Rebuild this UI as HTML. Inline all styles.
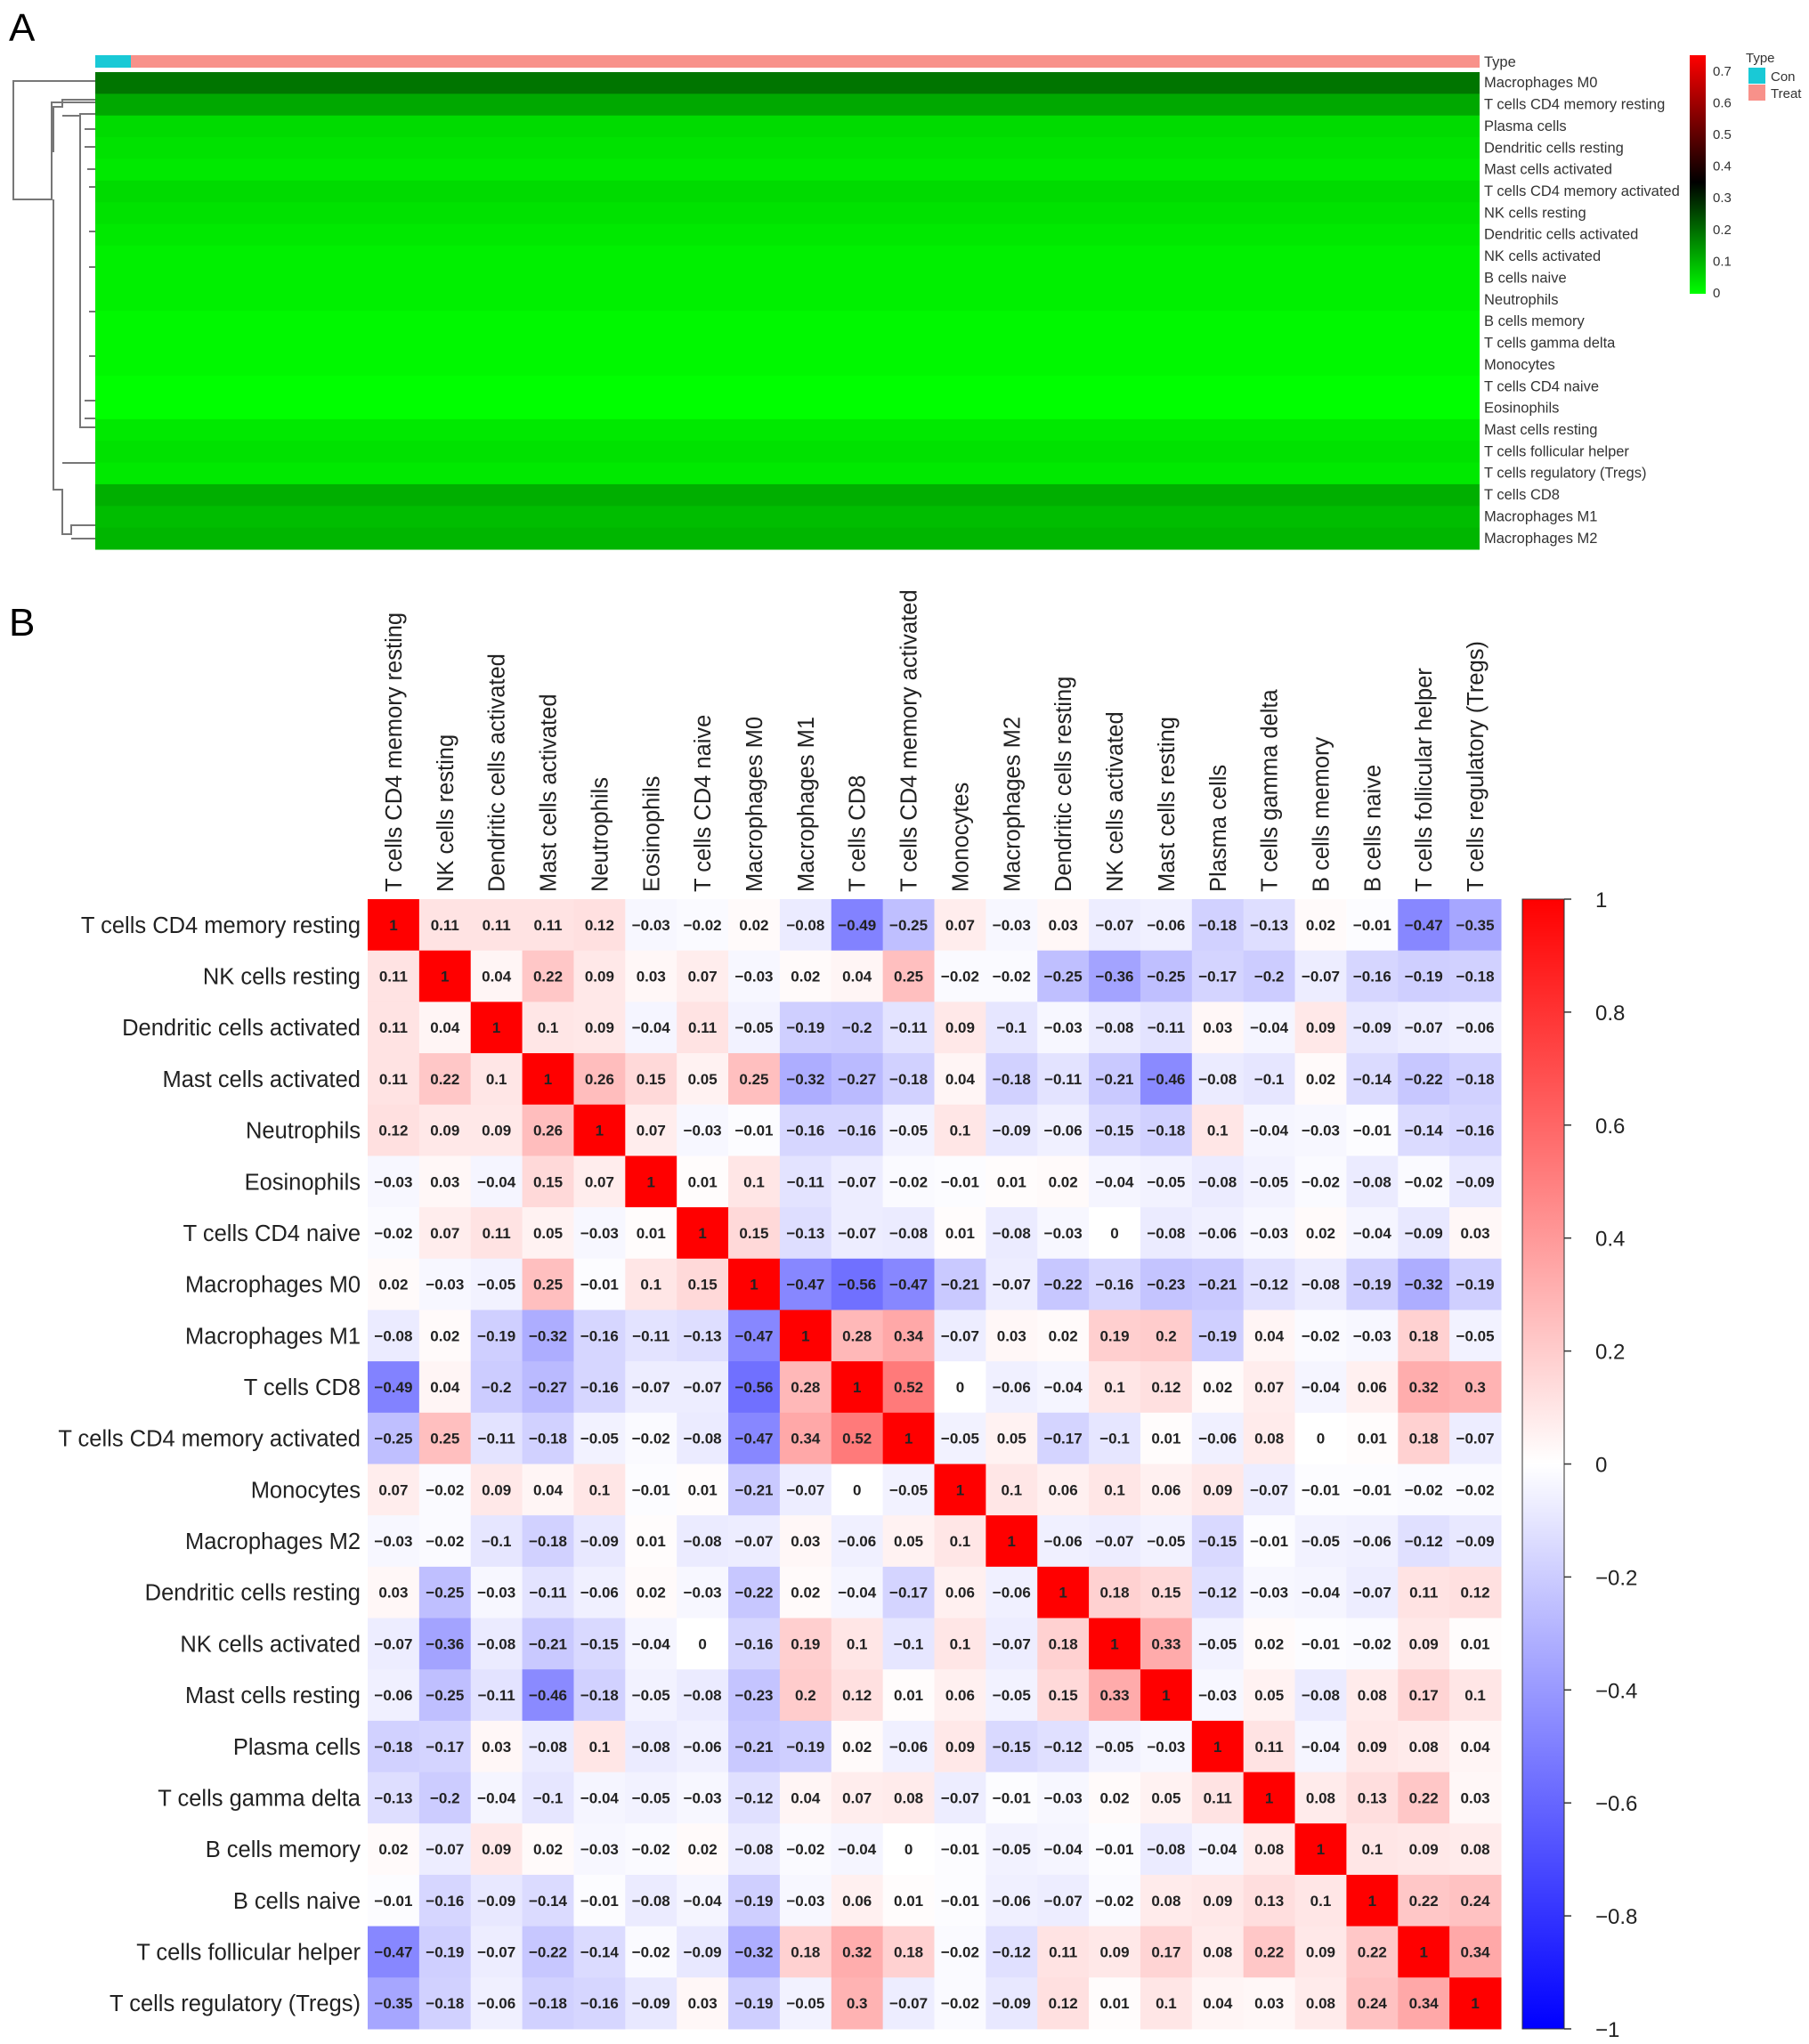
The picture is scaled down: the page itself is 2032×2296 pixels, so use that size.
<!DOCTYPE html>
<html><head><meta charset="utf-8">
<style>
html,body{margin:0;padding:0;background:#fff;}
svg{display:block;font-family:"Liberation Sans",Arial,sans-serif;}
</style></head>
<body>
<svg id="fig" width="2032" height="2296" viewBox="0 0 2032 2296" xmlns="http://www.w3.org/2000/svg">
<defs>
<linearGradient id="gA" x1="0" y1="1" x2="0" y2="0">
<stop offset="0" stop-color="#00ff00"/><stop offset="0.467" stop-color="#000000"/><stop offset="1" stop-color="#ff0000"/>
</linearGradient>
<linearGradient id="gB" x1="0" y1="1" x2="0" y2="0">
<stop offset="0" stop-color="#0000ff"/><stop offset="0.5" stop-color="#ffffff"/><stop offset="1" stop-color="#ff0000"/>
</linearGradient>
</defs>
<text x="10" y="46" font-size="44">A</text>
<text x="10" y="714" font-size="44">B</text>
<g id="panelA"></g>
<g id="dendro" stroke="#777" stroke-width="2" fill="none">
<path d="M107 91 H15 V224 H58 V115 H107"/>
<path d="M58 170 H60 V120 H70 V112 H107 M70 130 H90 V128 H107"/>
<path d="M60 224 H60 V550 H70 V600 H80 V590 H107 M80 605 H107 M70 520 H107"/>
<path d="M90 128 V480 H107 M95 145 H107 M95 165 H107 M98 190 H107 M100 210 H107 M100 260 H107 M100 300 H107 M100 350 H107 M100 400 H107 M95 450 H107 M95 470 H107"/>
</g>
<g id="legendA">
<rect x="1898" y="62" width="18" height="268" fill="url(#gA)"/>
<text x="1961" y="70" font-size="15" fill="#333">Type</text>
<rect x="1964" y="76" width="19" height="18" fill="#19c9d6"/>
<text x="1989" y="91" font-size="15" fill="#333">Con</text>
<rect x="1964" y="95" width="19" height="18" fill="#f8918a"/>
<text x="1989" y="110" font-size="15" fill="#333">Treat</text>
</g>
<g id="panelB"></g>
</svg>
<script>
const hmRows = ["Macrophages M0","T cells CD4 memory resting","Plasma cells","Dendritic cells resting","Mast cells activated","T cells CD4 memory activated","NK cells resting","Dendritic cells activated","NK cells activated","B cells naive","Neutrophils","B cells memory","T cells gamma delta","Monocytes","T cells CD4 naive","Eosinophils","Mast cells resting","T cells follicular helper","T cells regulatory (Tregs)","T cells CD8","Macrophages M1","Macrophages M2"];
const hmRowMeans = [0.19,0.12,0.05,0.04,0.03,0.05,0.04,0.03,0.02,0.02,0.02,0.01,0.01,0.01,0.0,0.0,0.03,0.04,0.03,0.11,0.09,0.1];
const hmTicks = [0,0.1,0.2,0.3,0.4,0.5,0.6,0.7];
const corrLabels = ["T cells CD4 memory resting","NK cells resting","Dendritic cells activated","Mast cells activated","Neutrophils","Eosinophils","T cells CD4 naive","Macrophages M0","Macrophages M1","T cells CD8","T cells CD4 memory activated","Monocytes","Macrophages M2","Dendritic cells resting","NK cells activated","Mast cells resting","Plasma cells","T cells gamma delta","B cells memory","B cells naive","T cells follicular helper","T cells regulatory (Tregs)"];
const corrVals = [
[1,.11,.11,.11,.12,-.03,-.02,.02,-.08,-.49,-.25,.07,-.03,.03,-.07,-.06,-.18,-.13,.02,-.01,-.47,-.35],
[.11,1,.04,.22,.09,.03,.07,-.03,.02,.04,.25,-.02,-.02,-.25,-.36,-.25,-.17,-.2,-.07,-.16,-.19,-.18],
[.11,.04,1,.1,.09,-.04,.11,-.05,-.19,-.2,-.11,.09,-.1,-.03,-.08,-.11,.03,-.04,.09,-.09,-.07,-.06],
[.11,.22,.1,1,.26,.15,.05,.25,-.32,-.27,-.18,.04,-.18,-.11,-.21,-.46,-.08,-.1,.02,-.14,-.22,-.18],
[.12,.09,.09,.26,1,.07,-.03,-.01,-.16,-.16,-.05,.1,-.09,-.06,-.15,-.18,.1,-.04,-.03,-.01,-.14,-.16],
[-.03,.03,-.04,.15,.07,1,.01,.1,-.11,-.07,-.02,-.01,.01,.02,-.04,-.05,-.08,-.05,-.02,-.08,-.02,-.09],
[-.02,.07,.11,.05,-.03,.01,1,.15,-.13,-.07,-.08,.01,-.08,-.03,0,-.08,-.06,-.03,.02,-.04,-.09,.03],
[.02,-.03,-.05,.25,-.01,.1,.15,1,-.47,-.56,-.47,-.21,-.07,-.22,-.16,-.23,-.21,-.12,-.08,-.19,-.32,-.19],
[-.08,.02,-.19,-.32,-.16,-.11,-.13,-.47,1,.28,.34,-.07,.03,.02,.19,.2,-.19,.04,-.02,-.03,.18,-.05],
[-.49,.04,-.2,-.27,-.16,-.07,-.07,-.56,.28,1,.52,0,-.06,-.04,.1,.12,.02,.07,-.04,.06,.32,.3],
[-.25,.25,-.11,-.18,-.05,-.02,-.08,-.47,.34,.52,1,-.05,.05,-.17,-.1,.01,-.06,.08,0,.01,.18,-.07],
[.07,-.02,.09,.04,.1,-.01,.01,-.21,-.07,0,-.05,1,.1,.06,.1,.06,.09,-.07,-.01,-.01,-.02,-.02],
[-.03,-.02,-.1,-.18,-.09,.01,-.08,-.07,.03,-.06,.05,.1,1,-.06,-.07,-.05,-.15,-.01,-.05,-.06,-.12,-.09],
[.03,-.25,-.03,-.11,-.06,.02,-.03,-.22,.02,-.04,-.17,.06,-.06,1,.18,.15,-.12,-.03,-.04,-.07,.11,.12],
[-.07,-.36,-.08,-.21,-.15,-.04,0,-.16,.19,.1,-.1,.1,-.07,.18,1,.33,-.05,.02,-.01,-.02,.09,.01],
[-.06,-.25,-.11,-.46,-.18,-.05,-.08,-.23,.2,.12,.01,.06,-.05,.15,.33,1,-.03,.05,-.08,.08,.17,.1],
[-.18,-.17,.03,-.08,.1,-.08,-.06,-.21,-.19,.02,-.06,.09,-.15,-.12,-.05,-.03,1,.11,-.04,.09,.08,.04],
[-.13,-.2,-.04,-.1,-.04,-.05,-.03,-.12,.04,.07,.08,-.07,-.01,-.03,.02,.05,.11,1,.08,.13,.22,.03],
[.02,-.07,.09,.02,-.03,-.02,.02,-.08,-.02,-.04,0,-.01,-.05,-.04,-.01,-.08,-.04,.08,1,.1,.09,.08],
[-.01,-.16,-.09,-.14,-.01,-.08,-.04,-.19,-.03,.06,.01,-.01,-.06,-.07,-.02,.08,.09,.13,.1,1,.22,.24],
[-.47,-.19,-.07,-.22,-.14,-.02,-.09,-.32,.18,.32,.18,-.02,-.12,.11,.09,.17,.08,.22,.09,.22,1,.34],
[-.35,-.18,-.06,-.18,-.16,-.09,.03,-.19,-.05,.3,-.07,-.02,-.09,.12,.01,.1,.04,.03,.08,.24,.34,1]];
const corrTicks = [1,0.8,0.6,0.4,0.2,0,-0.2,-0.4,-0.6,-0.8,-1];

const NS="http://www.w3.org/2000/svg";
function mk(tag,attrs,parent){const e=document.createElementNS(NS,tag);for(const k in attrs)e.setAttribute(k,attrs[k]);parent.appendChild(e);return e;}
function fmt(v){return v<0?"\u2212"+String(-v):String(v);}

// Panel A
const A=document.getElementById("panelA");
const aX0=107,aX1=1662,aY0=81,aY1=617;
const aRh=(aY1-aY0)/hmRows.length;
function greenScale(v){
  if(v<=0.35){const t=v/0.35;return `rgb(0,${Math.round(255*(1-t))},0)`;}
  const t=Math.min(1,(v-0.35)/0.4);return `rgb(${Math.round(255*t)},0,0)`;
}
let tb=mk("rect",{x:aX0,y:62,width:40,height:14,fill:"#19c9d6"},A);


tb=mk("rect",{x:aX0+40,y:62,width:aX1-aX0-40,height:14,fill:"#f8918a"},A);


let tl=mk("text",{x:aX1+5,y:75,"font-size":16.5,fill:"#333"},A);tl.textContent="Type";


hmRows.forEach((r,i)=>{
  const y=aY0+i*aRh;
  const rc=mk("rect",{x:aX0,y:y,width:aX1-aX0,height:aRh+0.5,fill:greenScale(hmRowMeans[i])},A);
  
  
  const t=mk("text",{x:aX1+5,y:y+aRh/2+5,"font-size":16.5,fill:"#333"},A);
  t.textContent=r;
  
  
});
const LA=document.getElementById("legendA");
hmTicks.forEach(v=>{
  const y=329-(v/0.75)*(329-62);
  const t=mk("text",{x:1924,y:y+5,"font-size":15,fill:"#333"},LA);
  t.textContent=String(v);
  
  
});

// Panel B
const B=document.getElementById("panelB");
const bX0=413,bX1=1686,bY0=1010,bY1=2279;
const n=corrLabels.length,cw=(bX1-bX0)/n,ch=(bY1-bY0)/n;
function corrColor(v){
  if(v>=0){const c=Math.round(255*(1-v));return `rgb(255,${c},${c})`;}
  const c=Math.round(255*(1+v));return `rgb(${c},${c},255)`;
}
corrLabels.forEach((lab,i)=>{
  const t=mk("text",{x:bX0-8,y:bY0+i*ch+ch/2+9,"font-size":25.5,"text-anchor":"end",fill:"#222"},B);
  t.textContent=lab;
  
  
  const cx=bX0+i*cw+cw/2+9;
  const c=mk("text",{x:cx,y:1002,"font-size":25.5,fill:"#222",transform:`rotate(-90 ${cx} 1002)`},B);
  c.textContent=lab;
  
  
});
corrVals.forEach((row,i)=>{
  row.forEach((v,j)=>{
    const x=bX0+j*cw,y=bY0+i*ch;
    const r=mk("rect",{x:x,y:y,width:cw+0.5,height:ch+0.5,fill:corrColor(v)},B);
    
    
    const t=mk("text",{x:x+cw/2,y:y+ch/2+6,"font-size":17,"font-weight":"bold","text-anchor":"middle",fill:"#222"},B);
    t.textContent=fmt(v);
    
    
  });
});
const cb=mk("rect",{x:1710,y:bY0,width:47,height:bY1-bY0,fill:"url(#gB)",stroke:"#333","stroke-width":1},B);


corrTicks.forEach(v=>{
  const y=bY0+(1-v)/2*(bY1-bY0);
  mk("line",{x1:1757,y1:y,x2:1765,y2:y,stroke:"#333","stroke-width":1.5},B);
  const t=mk("text",{x:1792,y:y+9,"font-size":24,fill:"#222"},B);
  t.textContent=v===0?"0":fmt(v);
  
  
});
</script>
</body></html>
